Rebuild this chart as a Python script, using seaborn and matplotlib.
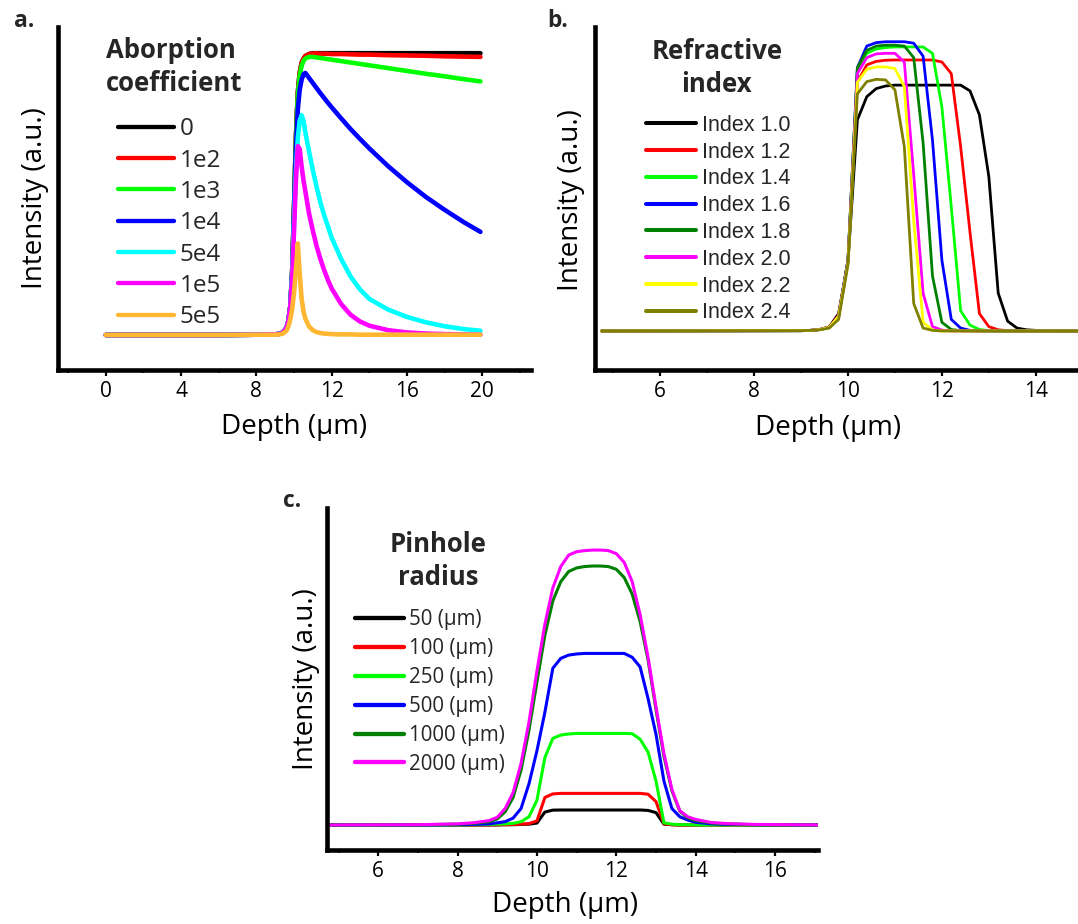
import matplotlib
matplotlib.use("Agg")
import matplotlib.pyplot as plt
from matplotlib.ticker import MultipleLocator
import seaborn as sns

# ---------------- Panel a: absorption coefficient ----------------
depth_a = [0, 2, 4, 6, 8, 9.0, 9.2, 9.4, 9.6, 9.7, 9.8, 9.9, 10.0, 10.1, 10.2, 10.3, 10.4, 10.5,
           10.6, 10.8, 11.0, 11.2, 11.4, 11.6, 11.8, 12.0, 12.5, 13.0, 13.5, 14.0, 15.0, 16.0,
           17.0, 18.0, 19.0, 19.9]
abs_labels = ["0", "1e2", "1e3", "1e4", "5e4", "1e5", "5e5"]
abs_colors = ["#000000", "#FF0000", "#00FF00", "#0000FF", "#00FFFF", "#FF00FF", "#FFB732"]
int_a_0 = [0, 0, 0, 0, 0.001, 0.002, 0.004, 0.008, 0.025, 0.05, 0.1, 0.22, 0.45, 0.7, 0.86, 0.93,
           0.965, 0.98, 0.99, 0.997, 1.0, 1.0, 1.0, 1.0, 1.0, 1.0, 1.0, 1.0, 1.0, 1.0, 1.0, 1.0,
           1.0, 1.0, 1.0, 1.0]
int_a_1e2 = [0, 0, 0, 0, 0.001, 0.002, 0.004, 0.008, 0.025, 0.05, 0.1, 0.22, 0.45, 0.7, 0.86, 0.93,
             0.965, 0.98, 0.99, 0.997, 0.999, 0.999, 0.998, 0.998, 0.998, 0.997, 0.997, 0.996,
             0.995, 0.995, 0.993, 0.992, 0.991, 0.989, 0.988, 0.987]
int_a_1e3 = [0, 0, 0, 0, 0.001, 0.002, 0.004, 0.008, 0.025, 0.05, 0.1, 0.22, 0.45, 0.69, 0.85, 0.92,
             0.955, 0.972, 0.981, 0.987, 0.987, 0.985, 0.983, 0.981, 0.979, 0.977, 0.972, 0.967,
             0.962, 0.957, 0.947, 0.937, 0.927, 0.918, 0.908, 0.9]
int_a_1e4 = [0, 0, 0, 0, 0.001, 0.002, 0.004, 0.008, 0.025, 0.05, 0.1, 0.22, 0.44, 0.66, 0.8, 0.87,
             0.905, 0.925, 0.93, 0.912, 0.894, 0.876, 0.858, 0.841, 0.824, 0.808, 0.769, 0.731,
             0.696, 0.662, 0.599, 0.542, 0.49, 0.444, 0.401, 0.366]
int_a_5e4 = [0, 0, 0, 0, 0.001, 0.002, 0.004, 0.008, 0.025, 0.05, 0.1, 0.21, 0.4, 0.58, 0.7, 0.76,
             0.78, 0.76, 0.72, 0.65, 0.585, 0.525, 0.47, 0.425, 0.385, 0.345, 0.27, 0.208, 0.162,
             0.128, 0.09, 0.064, 0.045, 0.031, 0.021, 0.015]
int_a_1e5 = [0, 0, 0, 0, 0.001, 0.002, 0.004, 0.008, 0.025, 0.05, 0.1, 0.2, 0.37, 0.55, 0.67, 0.66,
             0.6, 0.55, 0.51, 0.43, 0.37, 0.315, 0.27, 0.23, 0.195, 0.165, 0.11, 0.072, 0.048,
             0.033, 0.017, 0.009, 0.005, 0.003, 0.002, 0.001]
int_a_5e5 = [0, 0, 0, 0, 0.001, 0.001, 0.002, 0.005, 0.015, 0.03, 0.055, 0.09, 0.15, 0.23, 0.325,
             0.22, 0.13, 0.085, 0.058, 0.03, 0.017, 0.01, 0.007, 0.005, 0.004, 0.003, 0.002,
             0.002, 0.001, 0.001, 0.001, 0.001, 0.001, 0.001, 0.001, 0.001]
series_a = [int_a_0, int_a_1e2, int_a_1e3, int_a_1e4, int_a_5e4, int_a_1e5, int_a_5e5]

# ---------------- Panel b: refractive index ----------------
depth_b = [4.75, 9.0, 9.2, 9.4, 9.6, 9.8, 10.0, 10.2, 10.4, 10.6, 10.8, 11.0, 11.2, 11.4, 11.6,
           11.8, 12.0, 12.2, 12.4, 12.6, 12.8, 13.0, 13.2, 13.4, 13.6, 13.8, 14.0, 14.2, 14.6, 15.0]
idx_labels = ["Index 1.0", "Index 1.2", "Index 1.4", "Index 1.6", "Index 1.8", "Index 2.0",
              "Index 2.2", "Index 2.4"]
idx_colors = ["#000000", "#FF0000", "#00FF00", "#0000FF", "#008000", "#FF00FF", "#FFFF00",
              "#808000"]
int_b_10 = [0, 0.001, 0.002, 0.005, 0.014, 0.06, 0.24, 0.73, 0.81, 0.838, 0.847, 0.85, 0.85, 0.85,
            0.85, 0.85, 0.85, 0.85, 0.85, 0.83, 0.747, 0.534, 0.131, 0.034, 0.01, 0.004, 0.002,
            0.001, 0, 0]
int_b_12 = [0, 0.001, 0.002, 0.005, 0.013, 0.055, 0.245, 0.86, 0.92, 0.932, 0.936, 0.937, 0.937,
            0.937, 0.937, 0.937, 0.93, 0.89, 0.637, 0.34, 0.06, 0.015, 0.004, 0.001, 0, 0, 0, 0,
            0, 0]
int_b_14 = [0, 0.001, 0.002, 0.005, 0.012, 0.05, 0.245, 0.9, 0.96, 0.975, 0.98, 0.982, 0.982,
            0.982, 0.982, 0.96, 0.775, 0.43, 0.07, 0.02, 0.005, 0.001, 0, 0, 0, 0, 0, 0, 0, 0]
int_b_16 = [0, 0.001, 0.002, 0.005, 0.012, 0.05, 0.245, 0.91, 0.985, 0.997, 1.0, 1.0, 1.0, 0.995,
            0.95, 0.66, 0.245, 0.04, 0.01, 0.002, 0, 0, 0, 0, 0, 0, 0, 0, 0, 0]
int_b_18 = [0, 0.001, 0.002, 0.005, 0.012, 0.05, 0.245, 0.91, 0.97, 0.985, 0.988, 0.988, 0.985,
            0.945, 0.65, 0.19, 0.03, 0.005, 0.001, 0, 0, 0, 0, 0, 0, 0, 0, 0, 0, 0]
int_b_20 = [0, 0.001, 0.002, 0.005, 0.012, 0.05, 0.24, 0.89, 0.945, 0.958, 0.96, 0.96, 0.93, 0.54,
            0.13, 0.015, 0.003, 0, 0, 0, 0, 0, 0, 0, 0, 0, 0, 0, 0, 0]
int_b_22 = [0, 0.001, 0.002, 0.005, 0.012, 0.05, 0.235, 0.86, 0.905, 0.913, 0.913, 0.907, 0.845,
            0.38, 0.03, 0.003, 0, 0, 0, 0, 0, 0, 0, 0, 0, 0, 0, 0, 0, 0]
int_b_24 = [0, 0.001, 0.002, 0.004, 0.01, 0.04, 0.23, 0.82, 0.862, 0.87, 0.868, 0.834, 0.637,
            0.095, 0.01, 0.002, 0, 0, 0, 0, 0, 0, 0, 0, 0, 0, 0, 0, 0, 0]
series_b = [int_b_10, int_b_12, int_b_14, int_b_16, int_b_18, int_b_20, int_b_22, int_b_24]

# ---------------- Panel c: pinhole radius ----------------
depth_c = [4.8, 7.0, 8.0, 8.4, 8.8, 9.0, 9.2, 9.4, 9.6, 9.8, 10.0, 10.2, 10.4, 10.6, 10.8, 11.0,
           11.2, 11.4, 11.6, 11.8, 12.0, 12.2, 12.4, 12.6, 12.8, 13.0, 13.2, 13.4, 13.6, 13.8,
           14.0, 14.4, 14.8, 15.5, 17.15]
pin_labels = ["50 (\u00b5m)", "100 (\u00b5m)", "250 (\u00b5m)", "500 (\u00b5m)", "1000 (\u00b5m)",
              "2000 (\u00b5m)"]
pin_colors = ["#000000", "#FF0000", "#00FF00", "#0000FF", "#008000", "#FF00FF"]
int_c_50 = [0, 0, 0, 0, 0, 0, 0.001, 0.001, 0.002, 0.003, 0.007, 0.047, 0.054, 0.0545, 0.0545,
            0.0545, 0.0545, 0.0545, 0.0545, 0.0545, 0.0545, 0.0545, 0.0545, 0.0545, 0.053, 0.045,
            0.003, 0.001, 0, 0, 0, 0, 0, 0, 0]
int_c_100 = [0, 0, 0, 0, 0, 0.001, 0.001, 0.002, 0.003, 0.005, 0.015, 0.1, 0.113, 0.115, 0.115,
             0.115, 0.115, 0.115, 0.115, 0.115, 0.115, 0.115, 0.115, 0.115, 0.112, 0.085, 0.005,
             0.001, 0, 0, 0, 0, 0, 0, 0]
int_c_250 = [0, 0, 0, 0.001, 0.002, 0.003, 0.004, 0.006, 0.012, 0.03, 0.09, 0.245, 0.315, 0.327,
             0.331, 0.333, 0.333, 0.333, 0.333, 0.333, 0.333, 0.333, 0.332, 0.312, 0.265, 0.16,
             0.008, 0.003, 0.001, 0.001, 0, 0, 0, 0, 0]
int_c_500 = [0, 0, 0.001, 0.002, 0.004, 0.008, 0.012, 0.025, 0.06, 0.15, 0.27, 0.41, 0.57, 0.606,
             0.618, 0.622, 0.624, 0.624, 0.624, 0.624, 0.624, 0.624, 0.61, 0.575, 0.46, 0.33,
             0.16, 0.06, 0.03, 0.018, 0.01, 0.004, 0.002, 0.001, 0]
int_c_1000 = [0, 0.001, 0.003, 0.006, 0.012, 0.022, 0.048, 0.1, 0.2, 0.345, 0.52, 0.69, 0.815,
              0.885, 0.922, 0.935, 0.94, 0.942, 0.942, 0.94, 0.93, 0.9, 0.84, 0.74, 0.6, 0.42,
              0.25, 0.125, 0.05, 0.026, 0.016, 0.007, 0.004, 0.001, 0]
int_c_2000 = [0, 0.001, 0.004, 0.008, 0.016, 0.028, 0.06, 0.118, 0.224, 0.375, 0.56, 0.73, 0.862,
              0.94, 0.982, 0.994, 0.998, 1.0, 1.0, 0.998, 0.987, 0.955, 0.885, 0.765, 0.61, 0.43,
              0.26, 0.13, 0.052, 0.03, 0.02, 0.009, 0.005, 0.002, 0]
series_c = [int_c_50, int_c_100, int_c_250, int_c_500, int_c_1000, int_c_2000]

# ---------------- styling ----------------
sns.set_theme(style="white")
plt.rcParams["font.family"] = ["Open Sans", "DejaVu Sans"]

W, H = 1078, 924
fig = plt.figure(figsize=(W / 100, H / 100), dpi=100)


def px_axes(x0, x1, ytop, ybot):
    return fig.add_axes([x0 / W, 1 - ybot / H, (x1 - x0) / W, (ybot - ytop) / H])


ax_a = px_axes(58.3, 530.7, 27, 369.5)
ax_b = px_axes(595, 1078, 27, 370)
ax_c = px_axes(327, 818.3, 508, 850)


def style_axis(ax, xlim, ylim, major, minor):
    ax.set_xlim(*xlim)
    ax.set_ylim(*ylim)
    for s in ["top", "right"]:
        ax.spines[s].set_visible(False)
    for s in ["left", "bottom"]:
        ax.spines[s].set_linewidth(3.3)
        ax.spines[s].set_color("black")
        ax.spines[s].set_capstyle("projecting")
    ax.set_yticks([])
    ax.xaxis.set_major_locator(MultipleLocator(major))
    ax.xaxis.set_minor_locator(MultipleLocator(minor))
    ax.tick_params(axis="x", which="major", bottom=True, direction="out", length=4.5,
                   width=1.6, color="black", labelsize=15, pad=3.5, labelcolor="black")
    ax.tick_params(axis="x", which="minor", bottom=True, direction="out", length=2.5,
                   width=1.6, color="black")
    ax.set_ylabel("Intensity (a.u.)", fontsize=20, color="black")
    ax.set_xlabel("Depth (\u00b5m)", fontsize=20, color="black")
    ax.set_facecolor("white")


def draw(ax, depth, series, labels, colors, lw):
    for vals, lab, col in zip(series, labels, colors):
        sns.lineplot(x=depth, y=vals, color=col, linewidth=lw, label=lab, ax=ax, sort=False,
                     estimator=None, solid_capstyle="round", solid_joinstyle="round")


draw(ax_a, depth_a, series_a, abs_labels, abs_colors, 3.3)
draw(ax_b, depth_b, series_b, idx_labels, idx_colors, 2.0)
draw(ax_c, depth_c, series_c, pin_labels, pin_colors, 2.2)

style_axis(ax_a, (-2.52, 22.57), (-0.1225, 1.093), 4, 2)
style_axis(ax_b, (4.61, 14.9), (-0.135, 1.051), 2, 1)
style_axis(ax_c, (4.71, 17.09), (-0.091, 1.153), 2, 1)

# axis label positions
ax_a.xaxis.set_label_coords(0.5, -0.168)
ax_a.yaxis.set_label_coords(-0.05, 0.5)
ax_b.xaxis.set_label_coords(0.482, -0.168)
ax_b.yaxis.set_label_coords(-0.05, 0.495)
ax_c.xaxis.set_label_coords(0.485, -0.16)
ax_c.yaxis.set_label_coords(-0.043, 0.5)
for ax in (ax_a, ax_b, ax_c):
    ax.xaxis.label.set_va("center")
    ax.yaxis.label.set_va("center")

# legends
leg_a = ax_a.legend(loc="center left", bbox_to_anchor=(0.126, 0.427), frameon=False,
                    fontsize=17.5, handlelength=2.3, handletextpad=0.25, labelspacing=0.3,
                    borderpad=0, borderaxespad=0)
leg_b = ax_b.legend(loc="center left", bbox_to_anchor=(0.105, 0.44), frameon=False,
                    prop={"family": "Liberation Sans", "size": 15.5}, handlelength=2.35,
                    handletextpad=0.25, labelspacing=0.27, borderpad=0, borderaxespad=0)
leg_c = ax_c.legend(loc="center left", bbox_to_anchor=(0.057, 0.462), frameon=False,
                    fontsize=14.8, handlelength=2.4, handletextpad=0.25, labelspacing=0.38,
                    borderpad=0, borderaxespad=0)
for leg, lw in ((leg_a, 3.1), (leg_b, 2.9), (leg_c, 3.1)):
    for ln in leg.get_lines():
        ln.set_linewidth(lw)
        ln.set_solid_capstyle("round")

# legend titles
ax_a.text(0.101, 0.883, "Aborption\ncoefficient", transform=ax_a.transAxes, fontsize=18.5,
          fontweight="bold", ha="left", va="center", linespacing=1.3)
ax_b.text(0.252, 0.88, "Refractive\nindex", transform=ax_b.transAxes, fontsize=18.5,
          fontweight="bold", ha="center", va="center", linespacing=1.3, multialignment="center")
ax_c.text(0.227, 0.845, "Pinhole\nradius", transform=ax_c.transAxes, fontsize=18.5,
          fontweight="bold", ha="center", va="center", linespacing=1.3, multialignment="center")

# panel letters
fig.text(14 / W, 1 - 27 / H, "a.", fontsize=16.5, fontweight="bold", va="baseline")
fig.text(547 / W, 1 - 27 / H, "b.", fontsize=16.5, fontweight="bold", va="baseline")
fig.text(283 / W, 1 - 507 / H, "c.", fontsize=16.5, fontweight="bold", va="baseline")

fig.savefig("out.png", dpi=100, facecolor="white")
